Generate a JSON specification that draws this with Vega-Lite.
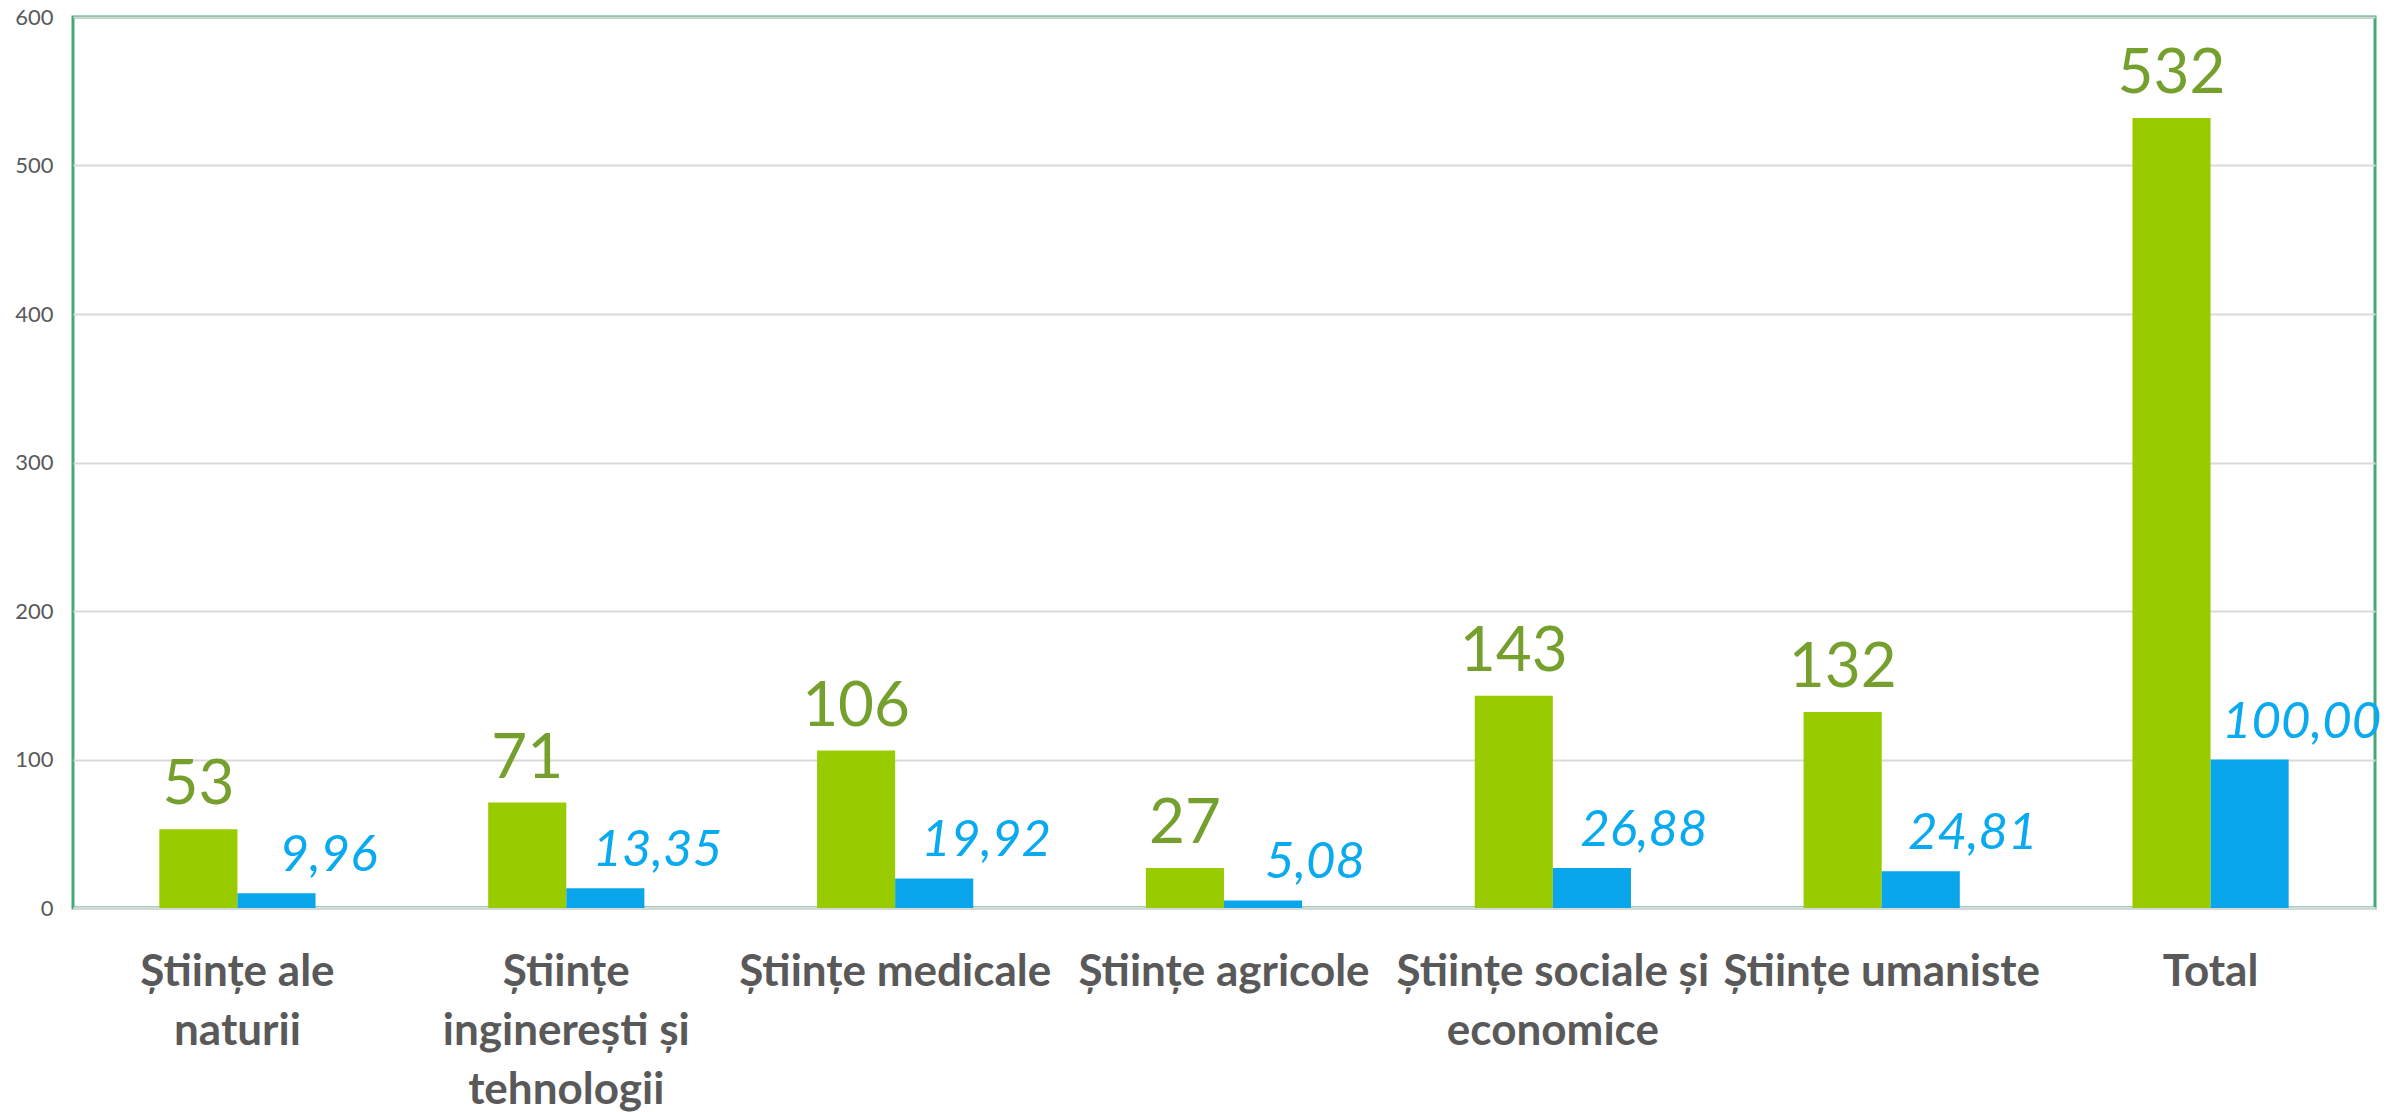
{
  "$schema": "https://vega.github.io/schema/vega-lite/v6.json",
  "width": 2302,
  "height": 891,
  "autosize": "none",
  "padding": {"left": 73, "top": 17, "right": 16, "bottom": 204},
  "background": "white",
  "config": {
    "locale": {"number": {"decimal": ",", "thousands": ".", "grouping": [3], "currency": ["", " lei"]}},
    "view": {"stroke": "#46a878", "strokeWidth": 3},
    "font": "Lato"
  },
  "data": {
    "values": [
      {"domeniu": "Științe ale naturii", "serie": "Număr", "valoare": 53},
      {"domeniu": "Științe ale naturii", "serie": "Pondere", "valoare": 9.96},
      {"domeniu": "Științe inginerești și tehnologii", "serie": "Număr", "valoare": 71},
      {"domeniu": "Științe inginerești și tehnologii", "serie": "Pondere", "valoare": 13.35},
      {"domeniu": "Științe medicale", "serie": "Număr", "valoare": 106},
      {"domeniu": "Științe medicale", "serie": "Pondere", "valoare": 19.92},
      {"domeniu": "Științe agricole", "serie": "Număr", "valoare": 27},
      {"domeniu": "Științe agricole", "serie": "Pondere", "valoare": 5.08},
      {"domeniu": "Științe sociale și economice", "serie": "Număr", "valoare": 143},
      {"domeniu": "Științe sociale și economice", "serie": "Pondere", "valoare": 26.88},
      {"domeniu": "Științe umaniste", "serie": "Număr", "valoare": 132},
      {"domeniu": "Științe umaniste", "serie": "Pondere", "valoare": 24.81},
      {"domeniu": "Total", "serie": "Număr", "valoare": 532},
      {"domeniu": "Total", "serie": "Pondere", "valoare": 100}
    ]
  },
  "encoding": {
    "x": {
      "field": "domeniu",
      "type": "nominal",
      "sort": null,
      "scale": {"paddingInner": 0.525, "paddingOuter": 0.2625},
      "axis": {
        "title": null,
        "labelAngle": 0,
        "labelFont": "Lato",
        "labelFontSize": 44,
        "labelFontWeight": "bold",
        "labelColor": "#595959",
        "labelPadding": 42,
        "labelBaseline": "top",
        "labelLineHeight": 59,
        "labelLimit": 0,
        "ticks": false,
        "domainColor": "#d3d9d6",
        "domainWidth": 3,
        "labelExpr": "datum.value == 'Științe ale naturii' ? ['Științe ale', 'naturii'] : datum.value == 'Științe inginerești și tehnologii' ? ['Științe', 'inginerești și', 'tehnologii'] : datum.value == 'Științe sociale și economice' ? ['Științe sociale și', 'economice'] : datum.value"
      }
    },
    "xOffset": {"field": "serie", "type": "nominal", "sort": ["Număr", "Pondere"]},
    "y": {
      "field": "valoare",
      "type": "quantitative",
      "scale": {"domain": [0, 600], "nice": false},
      "axis": {
        "title": null,
        "values": [0, 100, 200, 300, 400, 500, 600],
        "labelFont": "Lato",
        "labelFontSize": 22,
        "labelColor": "#595959",
        "labelPadding": 20,
        "ticks": false,
        "domain": false,
        "gridColor": "#d9d9d9",
        "gridWidth": 2
      }
    }
  },
  "layer": [
    {
      "mark": {"type": "bar"},
      "encoding": {
        "color": {
          "field": "serie",
          "type": "nominal",
          "scale": {"domain": ["Număr", "Pondere"], "range": ["#99cc00", "#0aa6ec"]},
          "legend": null
        }
      }
    },
    {
      "transform": [{"filter": "datum.serie == 'Număr'"}],
      "mark": {"type": "text", "baseline": "alphabetic", "align": "center", "dy": -25, "fontSize": 62, "color": "#76a02e", "font": "Lato"},
      "encoding": {"text": {"field": "valoare", "type": "quantitative", "format": "d"}}
    },
    {
      "transform": [{"filter": "datum.serie == 'Pondere'"}],
      "mark": {"type": "text", "baseline": "alphabetic", "align": "center", "dx": 52, "dy": -22, "fontSize": 51, "fontStyle": "italic", "color": "#0aaaf0", "font": "Lato"},
      "encoding": {"text": {"field": "valoare", "type": "quantitative", "format": ".2f"}}
    }
  ]
}
